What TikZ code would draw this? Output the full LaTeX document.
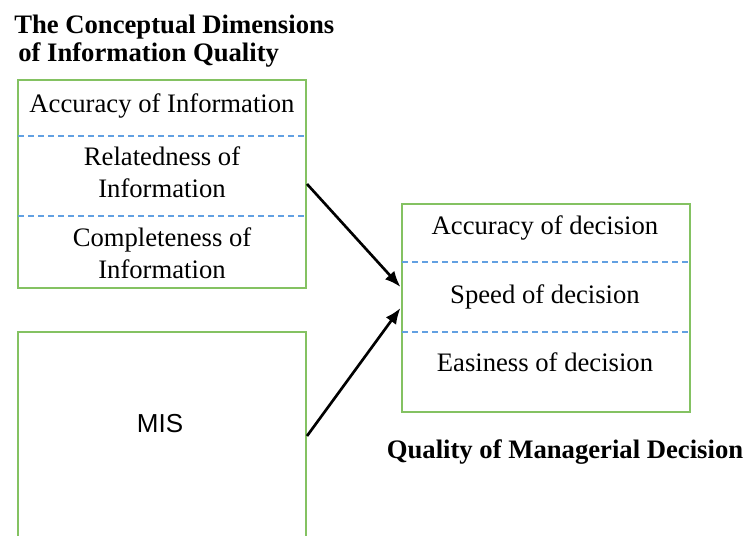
\documentclass[tikz,border=0pt]{standalone}
\usepackage{fontspec}
\setmainfont{Liberation Serif}
\setsansfont{Liberation Sans}
\usepackage{tikz}
\usetikzlibrary{%
  positioning,%
  calc,%
  arrows.meta%
}
\definecolor{boxgreen}{RGB}{132,194,98}
\definecolor{dashblue}{RGB}{98,160,226}
\tikzset{
  frame/.style={draw=boxgreen, line width=1.5pt, minimum width=216pt, minimum height=156pt, inner sep=0pt},
  divider/.style={draw=dashblue, line width=0.8pt, dash pattern=on 4.5pt off 3pt},
  item/.style={align=center, inner sep=0pt, font=\fontsize{20}{24}\selectfont},
  head/.style={inner sep=0pt, font=\fontsize{20}{24}\selectfont\bfseries},
  link/.style={line width=2pt, -{Latex[length=12pt,width=9.5pt]}}
}

\begin{document}
\begin{tikzpicture}[x=0.75pt,y=-0.75pt]
	\useasboundingbox (0,0) rectangle (747,536);
	%Headings
	\node[head, anchor=west] (T1) at (14,27) {The Conceptual Dimensions};
	\node[head, anchor=west] (T2) at (18,55) {of Information Quality};
	\node[head] (T3) at (565,452) {Quality of Managerial Decision};
	%Boxes
	\node[frame] (IQ) at (162,184) {};
	\node[frame] (MIS) at (162,436) {};
	\node[frame] (QD) at (545.5,308) {};
	%Dividers
	\draw[divider] (18,136) -- (306,136);
	\draw[divider] (18,216) -- (306,216);
	\draw[divider] (402,262) -- (689,262);
	\draw[divider] (402,332) -- (689,332);
	%Items
	\node[item] (A1) at (162,106) {Accuracy of Information};
	\node[item] (R1) at (162,172) {Relatedness of\\Information};
	\node[item] (C1) at (162,253) {Completeness of\\Information};
	\node[item, font=\fontsize{19.5}{24}\selectfont\sffamily] (M1) at (160,424) {MIS};
	\node[item] (A2) at (545,228) {Accuracy of decision};
	\node[item] (S2) at (545,297) {Speed of decision};
	\node[item] (E2) at (545,362) {Easiness of decision};
	%Arrows
	\coordinate (QDin) at ($(QD.west)+(0,-21)$);
	\draw[link] (IQ.east) -- (QDin);
	\draw[link] (MIS.east) -- (QD.west);
\end{tikzpicture}
\end{document}
